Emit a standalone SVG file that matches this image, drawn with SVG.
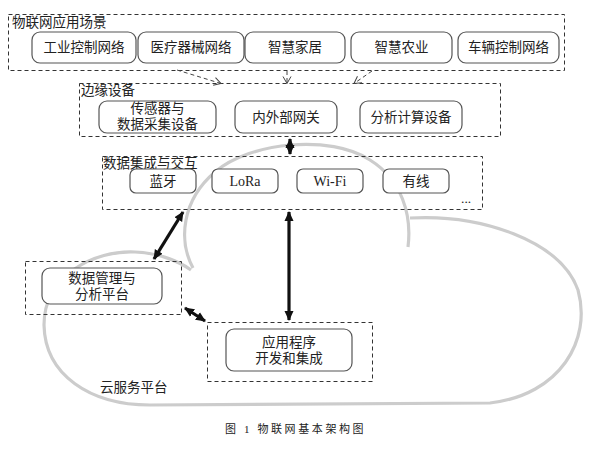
<svg xmlns="http://www.w3.org/2000/svg" width="600" height="450" viewBox="0 0 600 450">
<style>
text{font-family:"Liberation Serif","Noto Sans CJK SC",serif;font-size:13.5px;fill:#222;}
.c{text-anchor:middle;}
.lat{font-size:14px;}
.grp{fill:none;stroke:#333;stroke-width:1;stroke-dasharray:4,3;}
.node{fill:#fff;stroke:#555;stroke-width:1.2;}
.cloud{fill:none;stroke:#cccccc;stroke-width:3.2;}
.thin{fill:none;stroke:#444;stroke-width:1;stroke-dasharray:4,3;}
.thick{fill:none;stroke:#111;stroke-width:3.2;}
.cap{font-size:11px;letter-spacing:2.6px;}
</style>
<defs>
<marker id="open" markerWidth="10" markerHeight="10" refX="8" refY="5" orient="auto" markerUnits="userSpaceOnUse">
<path d="M1,1 L8,5 L1,9" fill="none" stroke="#444" stroke-width="1"/>
</marker>
<marker id="solid" markerWidth="12" markerHeight="12" refX="9" refY="6" orient="auto-start-reverse" markerUnits="userSpaceOnUse">
<path d="M0,1.5 L10,6 L0,10.5 Z" fill="#111"/>
</marker>
</defs>
<g id="cloud">
<path class="cloud" d="M193,268 C178,240 182,200 215,172 C250,142 330,134 370,160 C402,180 412,215 408,247"/>
<path class="cloud" d="M410,218 C480,214 560,240 578,290 C592,340 560,395 490,403 L150,405 C90,405 45,375 44,325 C44,275 95,250 135,252 C160,253 180,262 191,270"/>
<text x="100" y="392">云服务平台</text>
</g>
<g id="scenes">
<rect class="grp" x="8.5" y="14.5" width="556" height="56"/>
<text x="12" y="27">物联网应用场景</text>
<g id="n1"><rect class="node" x="32" y="32" width="104" height="31" rx="8"/><text class="c" x="84" y="52">工业控制网络</text></g>
<g id="n2"><rect class="node" x="138" y="32" width="106" height="31" rx="8"/><text class="c" x="191" y="52">医疗器械网络</text></g>
<g id="n3"><rect class="node" x="245" y="32" width="100" height="31" rx="8"/><text class="c" x="295" y="52">智慧家居</text></g>
<g id="n4"><rect class="node" x="351" y="32" width="101" height="31" rx="8"/><text class="c" x="401.5" y="52">智慧农业</text></g>
<g id="n5"><rect class="node" x="458" y="32" width="101" height="31" rx="8"/><text class="c" x="508.5" y="52">车辆控制网络</text></g>
</g>
<g id="edge">
<rect class="grp" x="79.5" y="83.5" width="421" height="53"/>
<text x="81" y="95">边缘设备</text>
<g id="e1"><rect class="node" x="99" y="101" width="117" height="32" rx="8"/><text class="c" x="157.5" y="113">传感器与</text><text class="c" x="157.5" y="129">数据采集设备</text></g>
<g id="e2"><rect class="node" x="235" y="101" width="102" height="32" rx="8"/><text class="c" x="286" y="122">内外部网关</text></g>
<g id="e3"><rect class="node" x="360" y="101" width="102" height="32" rx="8"/><text class="c" x="411" y="122">分析计算设备</text></g>
</g>
<g id="data">
<rect class="grp" x="102.5" y="156.5" width="380" height="53"/>
<text x="103" y="168">数据集成与交互</text>
<g id="d1"><rect class="node" x="130" y="169" width="66" height="24" rx="6"/><text class="c" x="163" y="186">蓝牙</text></g>
<g id="d2"><rect class="node" x="212" y="169" width="66" height="24" rx="6"/><text class="c lat" x="245" y="186">LoRa</text></g>
<g id="d3"><rect class="node" x="297" y="169" width="66" height="24" rx="6"/><text class="c lat" x="330" y="186">Wi-Fi</text></g>
<g id="d4"><rect class="node" x="383" y="169" width="66" height="24" rx="6"/><text class="c" x="416" y="186">有线</text></g>
<text x="461" y="203">...</text>
</g>
<g id="mgmt">
<rect class="grp" x="25.5" y="261.5" width="156" height="53"/>
<g id="m1"><rect class="node" x="42" y="268" width="120" height="36" rx="8"/><text class="c" x="102" y="283">数据管理与</text><text class="c" x="102" y="299">分析平台</text></g>
</g>
<g id="app">
<rect class="grp" x="207.5" y="322.5" width="165" height="59"/>
<g id="a1"><rect class="node" x="226" y="329" width="126" height="42" rx="8"/><text class="c" x="289" y="347">应用程序</text><text class="c" x="289" y="363">开发和集成</text></g>
</g>
<g id="connectors">
<line class="thin" x1="177" y1="70" x2="221" y2="83.5" marker-end="url(#open)"/>
<line class="thin" x1="287" y1="71" x2="287" y2="83.5" marker-end="url(#open)"/>
<line class="thin" x1="372" y1="71" x2="354" y2="83.5" marker-end="url(#open)"/>
<line class="thick" x1="290" y1="139" x2="290" y2="154" marker-start="url(#solid)" marker-end="url(#solid)"/>
<line class="thick" x1="289" y1="212" x2="289" y2="320" marker-start="url(#solid)" marker-end="url(#solid)"/>
<line class="thick" x1="183" y1="212" x2="154" y2="259" marker-start="url(#solid)" marker-end="url(#solid)"/>
<line class="thick" x1="185" y1="308" x2="205" y2="321" marker-start="url(#solid)" marker-end="url(#solid)"/>
</g>
<text class="cap" x="225" y="433">图 1  物联网基本架构图</text>
</svg>
